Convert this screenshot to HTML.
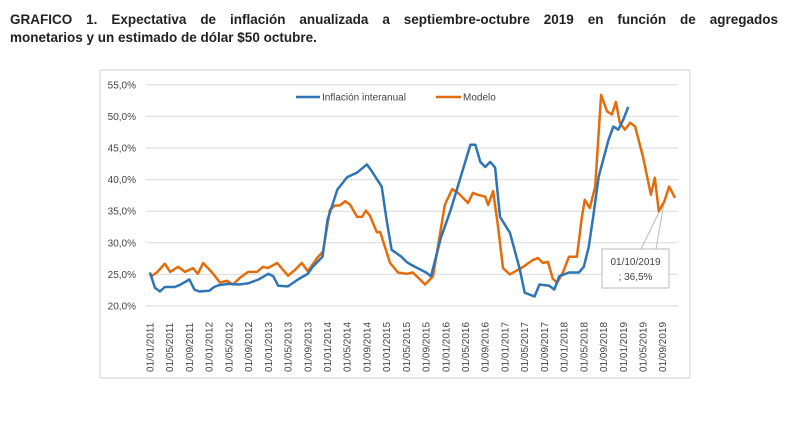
<!DOCTYPE html>
<html><head><meta charset="utf-8">
<style>
body{margin:0;width:800px;height:438px;background:#fff;font-family:"Liberation Sans",sans-serif;overflow:hidden}
#title{position:absolute;left:10px;top:11px;width:768px;font-size:13.5px;font-weight:bold;line-height:18px;color:#222}
#title .l1{display:block;text-align:justify;text-align-last:justify}
svg{position:absolute;left:0;top:0}
</style></head><body>
<div id="title"><span class="l1">GRAFICO 1. Expectativa de inflación anualizada a septiembre-octubre 2019 en función de agregados</span>monetarios y un estimado de dólar $50 octubre.</div>
<svg id="chart" width="800" height="438"></svg>
<script>
const yTicks=[20,25,30,35,40,45,50,55];
const xTickLabels=["01/01/2011","01/05/2011","01/09/2011","01/01/2012","01/05/2012","01/09/2012","01/01/2013","01/05/2013","01/09/2013","01/01/2014","01/05/2014","01/09/2014","01/01/2015","01/05/2015","01/09/2015","01/01/2016","01/05/2016","01/09/2016","01/01/2017","01/05/2017","01/09/2017","01/01/2018","01/05/2018","01/09/2018","01/01/2019","01/05/2019","01/09/2019"];
const blueMonths=[0,1,2,3,5,6,8,9,10,12,13,14,16,18,20,22,24,25,26,28,30,32,33,35,36,38,40,42,44,45,47,48,49,51,52,53,56,57,59,61,63,65,66,67,68,69,70,71,73,75,76,78,79,81,82,83,85,87,88,89,90,91,93,94,95,96,97];
const blueValues=[25.3,22.9,22.3,23.0,23.0,23.3,24.2,22.6,22.3,22.4,23.0,23.3,23.5,23.4,23.6,24.2,25.1,24.7,23.2,23.1,24.2,25.1,26.2,27.8,33.6,38.4,40.4,41.1,42.4,41.3,38.9,33.6,28.9,27.8,27.0,26.5,25.3,24.7,30.8,35.2,40.4,45.5,45.5,42.8,42.0,42.8,41.9,34.1,31.6,25.8,22.1,21.5,23.4,23.2,22.6,24.7,25.3,25.3,26.2,29.4,34.7,40.4,46.3,48.4,47.9,49.5,51.5];
const orangeMonths=[0,1.4,3.0,4.1,5.7,7.1,8.7,9.7,10.8,12.6,14.2,15.6,16.8,18.3,19.9,21.7,22.9,23.9,25.8,28.0,29.4,30.8,32.0,33.9,35.1,36.5,37.5,38.5,39.6,40.6,42.0,43.0,43.8,44.6,46.0,46.7,48.7,50.3,52.1,53.3,55.8,57.4,59.8,61.3,62.5,64.5,65.5,66.5,68.0,68.6,69.6,70.6,71.6,73.0,75.7,77.7,78.7,79.7,80.7,81.7,82.6,83.8,85.0,86.6,87.6,88.2,89.2,90.3,91.5,92.7,93.7,94.5,95.3,96.3,97.4,98.4,100.0,101.6,102.4,103.2,104.3,105.3,106.5];
const orangeValues=[24.6,25.3,26.7,25.4,26.2,25.4,26.0,25.1,26.8,25.3,23.7,24.0,23.4,24.5,25.4,25.4,26.2,26.0,26.8,24.8,25.7,26.8,25.5,27.6,28.6,35.2,35.9,35.9,36.6,36.0,34.1,34.1,35.1,34.3,31.7,31.7,26.8,25.3,25.1,25.3,23.4,24.7,36.0,38.5,37.9,36.3,37.9,37.6,37.3,36.0,38.2,32.5,26.0,25.0,26.2,27.3,27.6,26.8,27.0,24.3,23.7,25.4,27.8,27.8,34.1,36.8,35.5,38.9,53.4,50.8,50.3,52.3,49.0,47.9,49.0,48.4,43.6,37.6,40.3,35.0,36.5,38.9,37.1];
const annMonth=104.3, annValue=36.5;
const NS="http://www.w3.org/2000/svg";
const svg=document.getElementById('chart');
function X(m){return 150+m*4.93;}
function Y(v){return 306-(v-20)*6.32;}
function el(t,a,p){const e=document.createElementNS(NS,t);for(const k in a)e.setAttribute(k,a[k]);(p||svg).appendChild(e);return e;}
const frame=el('rect',{x:100,y:70,width:590,height:308,fill:'#fff',stroke:'#d0d0d0','stroke-width':1});


yTicks.forEach(v=>{
 const g=el('line',{x1:146,x2:678,y1:Y(v),y2:Y(v),stroke:'#d9d9d9','stroke-width':1});
 
 
 const t=el('text',{x:136,y:Y(v)+3.5,'text-anchor':'end','font-size':'10','fill':'#444'});
 t.textContent=v.toFixed(1).replace('.',',')+'%';
 
 
});
xTickLabels.forEach((s,i)=>{
 const x=X(i*4)+3.5;
 const t=el('text',{x:0,y:0,transform:`translate(${x},372) rotate(-90)`,'font-size':'10','fill':'#444'});
 t.textContent=s;
 
 
});
function series(ms,vs,c,name){
 const n=Math.min(ms.length,vs.length);
 let d='';for(let i=0;i<n;i++)d+=(i?'L':'M')+X(ms[i]).toFixed(1)+','+Y(vs[i]).toFixed(1);
 const p=el('path',{d,fill:'none',stroke:c,'stroke-width':2.5,'stroke-linejoin':'round'});
 
 
}
const ax=X(annMonth),ay=Y(annValue);
const l1=el('polygon',{points:`${ax},${ay} 641,249 656,249`,fill:'none',stroke:'#bbb','stroke-width':1});


series(orangeMonths,orangeValues,'#e46c0a','modelo-line');
series(blueMonths,blueValues,'#2e75b6','inflacion-line');
const box=el('rect',{x:602,y:249,width:67,height:39,fill:'#fff',stroke:'#bbb','stroke-width':1});


const a1=el('text',{x:635.5,y:265,'text-anchor':'middle','font-size':'10','fill':'#444'});a1.textContent='01/10/2019';


const a2=el('text',{x:635.5,y:280,'text-anchor':'middle','font-size':'10','fill':'#444'});a2.textContent='; 36,5%';


const lg=el('g',{});


el('line',{x1:296,x2:320,y1:97,y2:97,stroke:'#2e75b6','stroke-width':2.6},lg);
const t1=el('text',{x:322,y:100.5,'font-size':'10','fill':'#444'},lg);t1.textContent='Inflación interanual';


el('line',{x1:436,x2:461,y1:97,y2:97,stroke:'#e46c0a','stroke-width':2.6},lg);
const t2=el('text',{x:463,y:100.5,'font-size':'10','fill':'#444'},lg);t2.textContent='Modelo';


</script>
</body></html>
